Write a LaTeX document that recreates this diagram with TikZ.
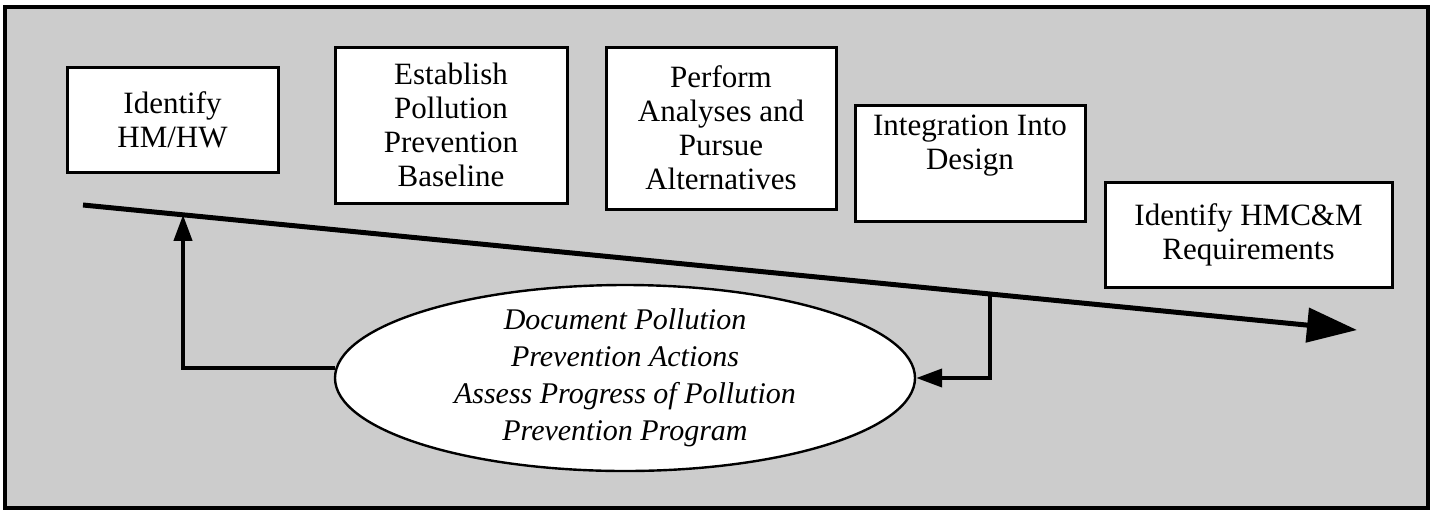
\documentclass[tikz,border=0pt]{standalone}
\usepackage{fontspec}
\setmainfont{Liberation Serif}
\usetikzlibrary{calc}
\usetikzlibrary{positioning}
\usetikzlibrary{shapes.geometric}
\usetikzlibrary{arrows.meta}
\tikzset{
	>={Triangle[length=13pt,width=9pt]},
	punktbox/.style={
		rectangle, 
		fill=white,
		draw=black, line width=1.5pt,
		align=center, 
		inner sep=2pt,
		font=\fontsize{15.5}{17}\selectfont},
	ovalbox/.style={
		ellipse,
		fill=white,
		draw=black, line width=1.2pt,
		minimum width=290pt,
		minimum height=93pt,
		inner xsep=0pt, inner ysep=-3pt,
		align=center,
		font=\fontsize{15}{18.5}\selectfont\itshape},
	line/.style={draw, line width=2pt, ->},
	zeitpfeil/.style={draw, line width=2.5pt, -{Triangle[length=25pt,width=17pt]}},
	rahmen/.style={draw=black, line width=1.75pt, fill=black!20},
}
\begin{document}
\begin{tikzpicture}
	 			[x=0.5pt, y=-0.5pt]
	 			\useasboundingbox (0,0) rectangle (1433,515);
	 			\path[rahmen] (5,7) rectangle (1428,508);
	 			% steps along the time line
	 			\node[punktbox, minimum width=105.5pt, minimum height=52.5pt] (eins) at (172.5,119.5) {Identify\\HM/HW};
	 			\node[punktbox, minimum width=116pt, minimum height=78pt] (zwei) at (451,125) {Establish\\Pollution\\Prevention\\Baseline};
	 			\node[punktbox, minimum width=115pt, minimum height=81pt] (drei) at (721,128) {Perform\\Analyses and\\Pursue\\Alternatives};
	 			\node[punktbox, minimum width=115pt, minimum height=58pt, text depth=21pt] (vier) at (970,163) {Integration Into\\Design};
	 			\node[punktbox, minimum width=143.5pt, minimum height=52.5pt] (fuenf) at (1248.5,234.5) {Identify HMC\&M\\Requirements};
	 			\node[ovalbox] (doku) at (625,378) {Document Pollution\\Prevention Actions\\Assess Progress of Pollution\\Prevention Program};
	 			
	 			\coordinate (anfang) at (83,205);
	 			\coordinate (ende) at (1357,330);
	 			\coordinate (links) at ($(anfang)!0.0785!(ende)$);
	 			\coordinate (rechts) at ($(anfang)!0.712!(ende)$);
	 			\path[zeitpfeil] (anfang) -- (ende);
	 			\path[line] (doku.178) -| (links);
	 			\path[line] (rechts) |- (doku.east);
	 			
	 			\end{tikzpicture}
\end{document}
